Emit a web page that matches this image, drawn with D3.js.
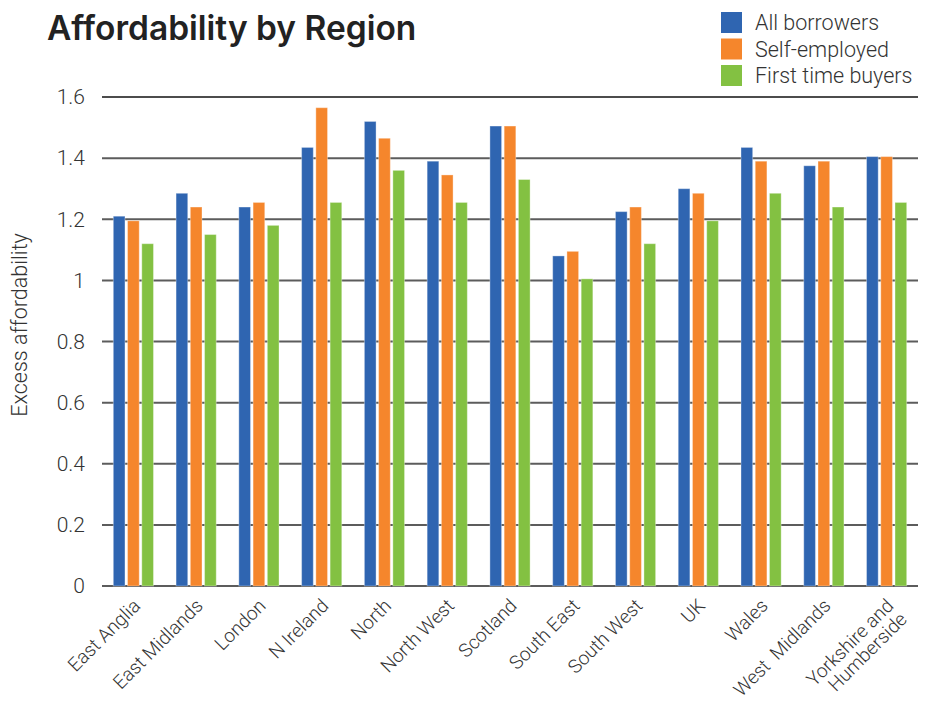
<!DOCTYPE html>
<html>
<head>
<meta charset="utf-8">
<script src="https://cdn.jsdelivr.net/npm/d3@7.8.5/dist/d3.min.js"></script>
<style>
  body { margin: 0; background: #fff; }
  svg { display: block; font-family: Roboto, "Open Sans", sans-serif; }
</style>
</head>
<body>
<svg width="933" height="702"></svg>
<script>
const regions = ["East Anglia", "East Midlands", "London", "N Ireland", "North", "North West",
  "Scotland", "South East", "South West", "UK", "Wales", "West  Midlands", "Yorkshire and\nHumberside"];
const seriesNames = ["All borrowers", "Self-employed", "First time buyers"];
const allBorrowers = [1.21, 1.285, 1.24, 1.435, 1.52, 1.39, 1.505, 1.08, 1.225, 1.30, 1.435, 1.375, 1.405];
const selfEmployed = [1.195, 1.24, 1.255, 1.565, 1.465, 1.345, 1.505, 1.095, 1.24, 1.285, 1.39, 1.39, 1.405];
const firstTime = [1.12, 1.15, 1.18, 1.255, 1.36, 1.255, 1.33, 1.005, 1.12, 1.195, 1.285, 1.24, 1.255];
const yTicks = [0, 0.2, 0.4, 0.6, 0.8, 1, 1.2, 1.4, 1.6];
const colors = ["#2f65b1", "#f5862c", "#83c142"];

const series = [allBorrowers, selfEmployed, firstTime];
const svg = d3.select("svg");
const plotL = 102, plotR = 918, plotT = 97, plotB = 586;

const x0 = d3.scaleBand().domain(regions).range([plotL, plotR]).paddingInner(0.36).paddingOuter(0.18);
const x1 = d3.scaleBand().domain(seriesNames).range([0, x0.bandwidth()]).paddingInner(0.18);
const y = d3.scaleLinear().domain([0, 1.6]).range([plotB, plotT]);

// title
svg.append("text")
  .attr("x", 47).attr("y", 40)
  .attr("font-family", "Inter, Roboto, sans-serif")
  .attr("font-size", 33.5).attr("font-weight", 600)
  .attr("fill", "#222")
  .text("Affordability by Region");

// grid
const grid = svg.append("g");
grid.selectAll("line").data(yTicks).join("line")
  .attr("x1", plotL).attr("x2", plotR)
  .attr("y1", d => y(d)).attr("y2", d => y(d))
  .attr("stroke", d => d === 1.6 ? "#111" : "#5c5c5c")
  .attr("stroke-width", d => d === 1.6 ? 1.5 : 2);

grid.selectAll("text").data(yTicks).join("text")
  .attr("x", 85).attr("y", d => y(d)).attr("dy", "0.35em")
  .attr("text-anchor", "end")
  .attr("font-size", 21).attr("font-weight", 300).attr("fill", "#333")
  .text(d => d3.format("")(d));

// bars
const groups = svg.append("g").selectAll("g").data(regions).join("g")
  .attr("transform", d => `translate(${x0(d)},0)`);
groups.selectAll("rect")
  .data((d, i) => series.map((s, k) => ({ key: seriesNames[k], value: s[i], k })))
  .join("rect")
  .attr("x", d => x1(d.key))
  .attr("width", x1.bandwidth())
  .attr("y", d => y(d.value))
  .attr("height", d => y(0) - y(d.value))
  .attr("fill", d => colors[d.k])
  .attr("stroke", "#fff").attr("stroke-opacity", 0.35).attr("stroke-width", 1);

// x labels
const xl = svg.append("g").selectAll("text").data(regions).join("text")
  .attr("transform", d => `translate(${x0(d) + x0.bandwidth() / 2 + 8},607) rotate(-45)`)
  .attr("text-anchor", "end")
  .attr("font-size", 19).attr("font-weight", 300).attr("fill", "#333")
  .style("white-space", "pre");
xl.each(function (d) {
  const lines = d.split("\n");
  d3.select(this).selectAll("tspan").data(lines).join("tspan")
    .attr("x", 0).attr("dy", (l, i) => i === 0 ? 0 : "1.0em")
    .text(l => l);
});

// y title
svg.append("text")
  .attr("transform", "translate(27,325) rotate(-90)")
  .attr("text-anchor", "middle")
  .attr("font-size", 21.5).attr("font-weight", 300).attr("fill", "#333")
  .text("Excess affordability");

// legend
const lg = svg.append("g").selectAll("g").data(seriesNames).join("g")
  .attr("transform", (d, i) => `translate(721,${12 + i * 26.5})`);
lg.append("rect").attr("width", 21).attr("height", 21).attr("fill", (d, i) => colors[i]);
lg.append("text").attr("x", 34).attr("y", 10.5).attr("dy", "0.36em")
  .attr("font-size", 21.5).attr("font-weight", 300).attr("fill", "#333")
  .text(d => d);
</script>
</body>
</html>
